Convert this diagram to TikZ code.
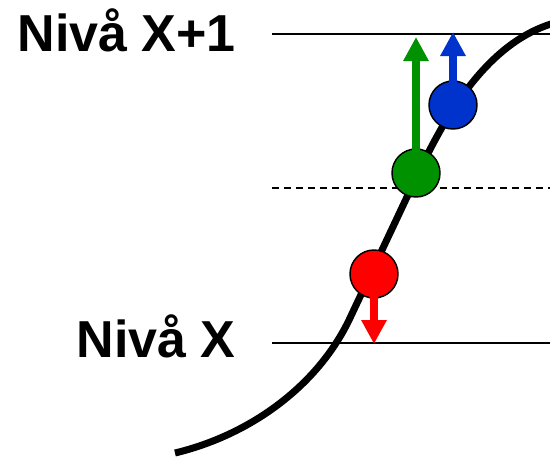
\documentclass[tikz,border=0pt]{standalone}
\usepackage{fontspec}
\setmainfont{Liberation Sans}
\usetikzlibrary{arrows.meta}
\definecolor{upgreen}{RGB}{0,145,0}
\definecolor{upblue}{RGB}{0,51,204}
\definecolor{downred}{RGB}{255,0,0}
\tikzset{
  level/.style={line width=1.1pt},
  label/.style={font=\fontsize{39}{39}\selectfont\bfseries, anchor=base east, inner sep=0pt},
  ball/.style={circle, draw=black, line width=1.1pt, minimum size=36pt, inner sep=0pt},
  push/.style={line width=5.6pt, -{Triangle[width=18pt,length=18pt]}},
}
\begin{document}
\begin{tikzpicture}[x=0.75pt,y=-0.75pt]
  \useasboundingbox (0,0) rectangle (550,458);
  \begin{scope}
    \clip (0,0) rectangle (550,458);
    % energy levels
    \draw[level] (272,34) -- (550,34);
    \draw[level, dash pattern=on 5.25pt off 3.75pt] (272,188) -- (550,188);
    \draw[level] (272,343) -- (550,343);
    % sigmoid curve: lower bend, straight middle, upper bend
    \draw[line width=5.25pt]
      (175,453) .. controls (250,435) and (318,386) .. (350,318)
      -- (415,180)
      .. controls (441,125) and (485,38) .. (562,21);
  \end{scope}
  % level labels
  \node[label] (t1) at (236,51) {Nivå X+1};
  \node[label] (t0) at (236,357) {Nivå X};
  % particles
  \node[ball, fill=downred] (r) at (374,274) {};
  \node[ball, fill=upgreen] (g) at (416,173) {};
  \node[ball, fill=upblue] (b) at (453,105) {};
  \coordinate (rtip) at (374,344);
  \coordinate (gtip) at (416,37);
  \coordinate (btip) at (453,32);
  \draw[push, downred] (r.center) -- (rtip);
  \draw[push, upgreen] (g.center) -- (gtip);
  \draw[push, upblue] (b.center) -- (btip);
\end{tikzpicture}
\end{document}
